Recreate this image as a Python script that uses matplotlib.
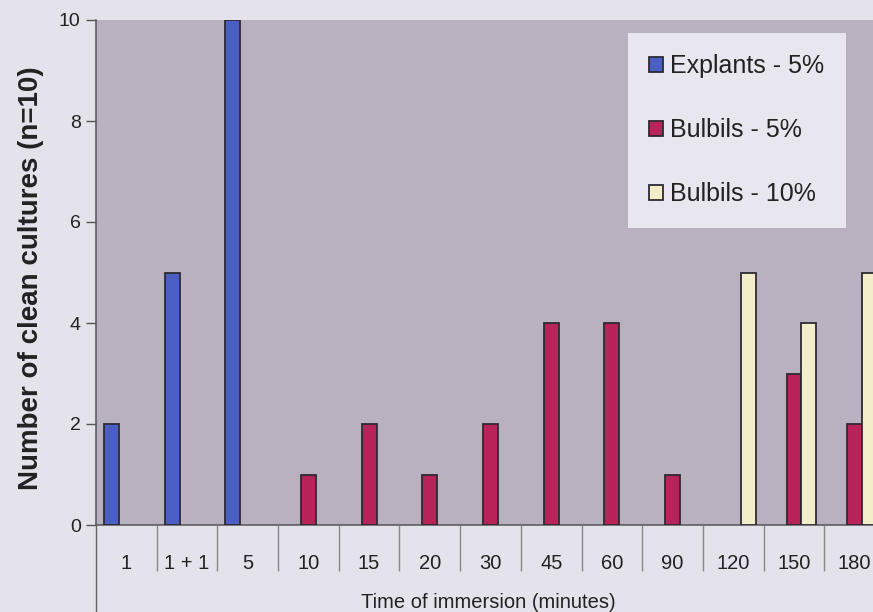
import matplotlib
matplotlib.use("Agg")
import matplotlib.pyplot as plt
import numpy as np

categories = ["1", "1 + 1", "5", "10", "15", "20", "30", "45", "60", "90", "120", "150", "180"]
explants_5 = [2, 5, 10, 0, 0, 0, 0, 0, 0, 0, 0, 0, 0]
bulbils_5 = [0, 0, 0, 1, 2, 1, 2, 4, 4, 1, 0, 3, 2]
bulbils_10 = [0, 0, 0, 0, 0, 0, 0, 0, 0, 0, 5, 4, 5]
series_names = ["Explants - 5%", "Bulbils - 5%", "Bulbils - 10%"]
colors = ["#4a5ec4", "#b8245a", "#f3edca"]

plt.rcParams['font.family'] = ['Liberation Sans', 'DejaVu Sans']

W, H = 873, 612
fig = plt.figure(figsize=(W / 100, H / 100), dpi=100)
fig.patch.set_facecolor("#e4e2ea")

left, right, top, bottom = 96, 885, 20, 525
ax = fig.add_axes([left / W, 1 - bottom / H, (right - left) / W, (bottom - top) / H])
ax.set_facecolor("#b9b0c0")

x = np.arange(len(categories))
bw = 0.245
for i, (vals, name, c) in enumerate(zip([explants_5, bulbils_5, bulbils_10], series_names, colors)):
    v = np.array(vals, dtype=float)
    m = v > 0
    ax.bar(x[m] + (i - 1) * bw, v[m], width=bw, color=c, edgecolor="#2e2a33",
           linewidth=1.3, label=name, zorder=3)

ax.set_xlim(-0.5, len(categories) - 0.5)
ax.set_ylim(0, 10)
ax.set_yticks([0, 2, 4, 6, 8, 10])
ax.tick_params(axis="y", direction="out", length=7, width=1, color="#555555",
               labelsize=14, labelcolor="#222222", pad=4)

ax.set_xticks(x)
ax.set_xticklabels(categories)
ax.tick_params(axis="x", which="major", length=0, labelsize=14.5, labelcolor="#222222", pad=21)
ax.set_xticks(np.arange(0.5, len(categories) - 0.5, 1.0), minor=True)
ax.tick_params(axis="x", which="minor", direction="out", length=33, width=1, color="#888888")

for s in ["top", "right"]:
    ax.spines[s].set_visible(False)
ax.spines["left"].set_color("#555555")
ax.spines["bottom"].set_color("#555555")
ax.spines["left"].set_linewidth(1.1)
ax.spines["bottom"].set_linewidth(1.1)

# left axis line continuing down to image bottom (table style x axis)
ax.plot([0, 0], [0, -(H - bottom) / (bottom - top)], transform=ax.transAxes,
        color="#666666", lw=1, clip_on=False, zorder=5)

ax.set_ylabel("Number of clean cultures (n=10)", fontsize=20, fontweight="bold",
              color="#222222")
ax.yaxis.set_label_coords((44 - left) / (right - left), (bottom - 278) / (bottom - top))
fig.text(488 / W, 1 - 602 / H, "Time of immersion (minutes)", fontsize=14.5,
         color="#222222", ha="center", va="center")

leg = ax.legend(loc="upper left", bbox_to_anchor=(628 / W, 1 - 33 / H),
                bbox_transform=fig.transFigure, frameon=True, fancybox=False,
                fontsize=18, handlelength=0.55, handleheight=0.55,
                handletextpad=0.3, labelspacing=1.6, borderpad=0.85,
                borderaxespad=0)
leg.get_frame().set_facecolor("#e8e6ee")
leg.get_frame().set_edgecolor("none")
leg.get_frame().set_alpha(1)
for t in leg.get_texts():
    t.set_color("#222222")

fig.savefig("out.png", dpi=100, facecolor=fig.get_facecolor())
